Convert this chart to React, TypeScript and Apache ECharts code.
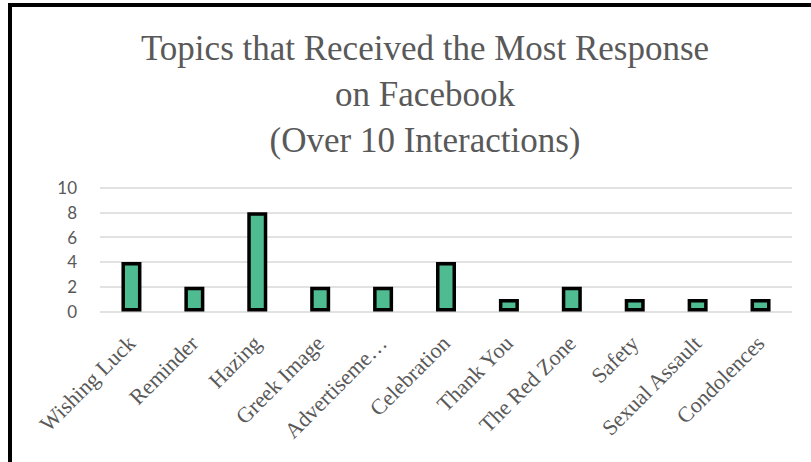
import React, { useEffect, useRef } from "react";
import * as echarts from "echarts";

const categories = [
  "Wishing Luck",
  "Reminder",
  "Hazing",
  "Greek Image",
  "Advertiseme…",
  "Celebration",
  "Thank You",
  "The Red Zone",
  "Safety",
  "Sexual Assault",
  "Condolences",
];
const values = [4, 2, 8, 2, 2, 4, 1, 2, 1, 1, 1];
const yTicks = { min: 0, max: 10, interval: 2 };
const titleText = "Topics that Received the Most Response\non Facebook\n(Over 10 Interactions)";

export default function App() {
  const ref = useRef<HTMLDivElement>(null);
  useEffect(() => {
    if (!ref.current) return;
    const chart = echarts.init(ref.current, undefined, { renderer: "svg" });
    chart.setOption({
      animation: false,
      backgroundColor: "#ffffff",
      title: {
        text: titleText,
        left: 420,
        top: 20,
        textAlign: "center",
        textStyle: {
          fontFamily: "Liberation Serif",
          fontSize: 35,
          lineHeight: 46,
          fontWeight: "normal",
          color: "#595959",
        },
      },
      graphic: [
        {
          type: "line",
          shape: { x1: 8, y1: 5, x2: 811, y2: 5 },
          style: { stroke: "#000", lineWidth: 4 },
        },
        {
          type: "line",
          shape: { x1: 10, y1: 3, x2: 10, y2: 462 },
          style: { stroke: "#000", lineWidth: 4 },
        },
      ],
      grid: { left: 100, right: 19, top: 187.5, bottom: 150.5, containLabel: false },
      xAxis: {
        type: "category",
        data: categories,
        axisLine: { show: false },
        axisTick: { show: false },
        axisLabel: {
          rotate: 45,
          interval: 0,
          margin: 28,
          color: "#595959",
          fontFamily: "Liberation Serif",
          fontSize: 22,
        },
      },
      yAxis: {
        type: "value",
        min: yTicks.min,
        max: yTicks.max,
        interval: yTicks.interval,
        axisLine: { show: false },
        axisTick: { show: false },
        axisLabel: {
          margin: 23,
          color: "#595959",
          fontFamily: "Lato",
          fontSize: 17,
        },
        splitLine: { lineStyle: { color: "#d9d9d9", width: 1.5 } },
      },
      series: [
        {
          type: "bar",
          data: values,
          barWidth: 20,
          itemStyle: { color: "#4EBB91", borderColor: "#000000", borderWidth: 3.5 },
        },
      ],
    });
    return () => chart.dispose();
  }, []);
  return <div ref={ref} style={{ width: 811, height: 462, position: "absolute", left: 0, top: 0 }} />;
}
